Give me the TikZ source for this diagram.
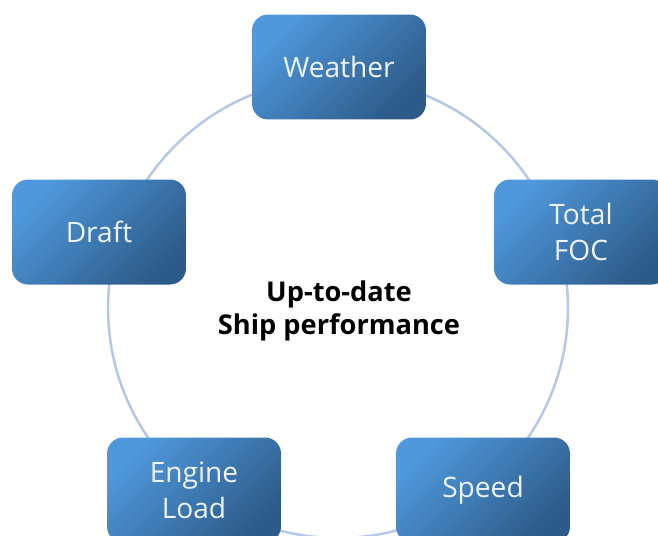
\documentclass[tikz,border=0pt]{standalone}
\usepackage{fontspec}
\setmainfont{Open Sans}
\definecolor{ringblue}{HTML}{B4C7E7}
\definecolor{boxlight}{HTML}{4F98DC}
\definecolor{boxdark}{HTML}{2D5B89}
\definecolor{boxtext}{HTML}{EEF4FB}
\tikzset{
  factor/.style={rounded corners=0.32cm, minimum width=3.48cm, minimum height=2.1cm,
    top color=boxlight, bottom color=boxdark, shading angle=45,
    text=boxtext, font=\fontsize{16}{20.5}\selectfont, align=center, inner sep=0pt},
}
\begin{document}
\begin{tikzpicture}[x=0.02cm,y=-0.02cm]
\useasboundingbox (0,0) rectangle (658,535);
\draw[ringblue, line width=1.4pt] (338,308) circle [radius=4.6cm]; % ring

\node[font=\bfseries\fontsize{15.5}{18.5}\selectfont, align=center] (perf) at (339,311) {Up-to-date\\Ship performance};

\node[factor] (weather) at (339,67) {Weather};
\node[factor] (draft) at (99,232) {Draft};
\node[factor] (foc) at (581,232) {Total\\FOC};
\node[factor] (engine) at (194,490) {Engine\\Load};
\node[factor] (speed) at (483,490) {Speed};
\end{tikzpicture}
\end{document}
